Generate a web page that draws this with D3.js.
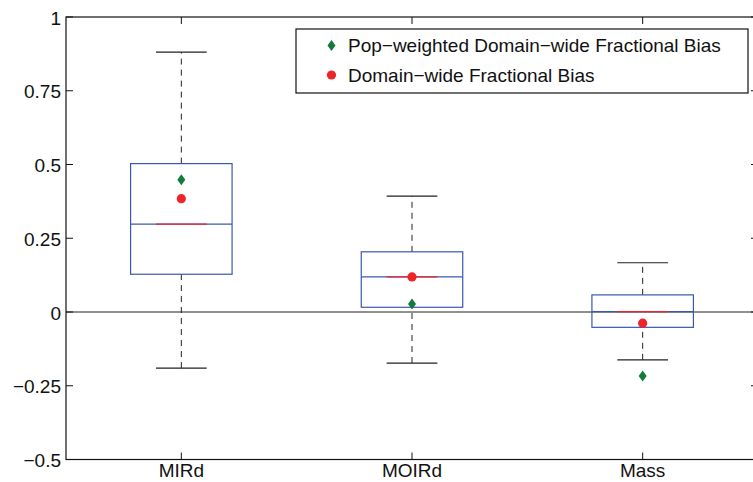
<!DOCTYPE html>
<html>
<head>
<meta charset="utf-8">
<script src="https://cdn.jsdelivr.net/npm/d3@7"></script>
<style>
  html, body { margin: 0; padding: 0; background: #fff; }
  svg { display: block; }
  text { font-family: "Liberation Sans", Arial, Helvetica, sans-serif; fill: #111; }
</style>
</head>
<body>
<svg id="chart" width="753" height="482"></svg>
<script>
// Categories and box statistics (fractional bias)
const categories = ["MIRd", "MOIRd", "Mass"];
const whiskerLow  = [-0.190, -0.173, -0.162];
const boxLow      = [0.128, 0.016, -0.052];
const median      = [0.298, 0.119, 0.001];
const boxHigh     = [0.503, 0.204, 0.058];
const whiskerHigh = [0.881, 0.393, 0.167];
// Domain-wide summary points
const domainFB    = [0.384, 0.119, -0.038];
const popWeightFB = [0.448, 0.027, -0.217];
// Axis ticks
const yTicks = [-0.5, -0.25, 0, 0.25, 0.5, 0.75, 1];
const yTickLabels = ["\u22120.5", "\u22120.25", "0", "0.25", "0.5", "0.75", "1"];
const legendLabels = ["Pop\u2212weighted Domain\u2212wide Fractional Bias", "Domain\u2212wide Fractional Bias"];

const svg = d3.select("#chart");
const plotL = 66, plotR = 758, plotT = 17, plotB = 459.5;

const x = d3.scaleLinear().domain([0.5, 3.5]).range([plotL, plotR]);
const y = d3.scaleLinear().domain([-0.5, 1]).range([plotB, plotT]);

const boxW = 0.44, capW = 0.22;
const blue = "#3a58b0", red = "#ee2428", green = "#137a3c";
const fs = 19;

// Zero reference line
svg.append("line")
  .attr("x1", plotL).attr("x2", plotR)
  .attr("y1", y(0)).attr("y2", y(0))
  .attr("stroke", "#222").attr("stroke-width", 1.2);

const g = svg.append("g");
categories.forEach((c, i) => {
  const cx = x(i + 1);
  const bx0 = x(i + 1 - boxW / 2), bx1 = x(i + 1 + boxW / 2);
  const cx0 = x(i + 1 - capW / 2), cx1 = x(i + 1 + capW / 2);
  // whiskers
  [[boxHigh[i], whiskerHigh[i]], [whiskerLow[i], boxLow[i]]].forEach(([a, b]) => {
    g.append("line").attr("x1", cx).attr("x2", cx)
      .attr("y1", y(a)).attr("y2", y(b))
      .attr("stroke", "#222").attr("stroke-width", 1)
      .attr("stroke-dasharray", "6,5");
  });
  [whiskerHigh[i], whiskerLow[i]].forEach(v => {
    g.append("line").attr("x1", cx0).attr("x2", cx1)
      .attr("y1", y(v)).attr("y2", y(v))
      .attr("stroke", "#222").attr("stroke-width", 1.2);
  });
  // box
  g.append("rect")
    .attr("x", bx0).attr("y", y(boxHigh[i]))
    .attr("width", bx1 - bx0).attr("height", y(boxLow[i]) - y(boxHigh[i]))
    .attr("fill", "none").attr("stroke", blue).attr("stroke-width", 1.2);
  // median
  g.append("line").attr("x1", bx0).attr("x2", bx1)
    .attr("y1", y(median[i])).attr("y2", y(median[i]))
    .attr("stroke", blue).attr("stroke-width", 1.2);
  g.append("line").attr("x1", cx0).attr("x2", cx1)
    .attr("y1", y(median[i])).attr("y2", y(median[i]))
    .attr("stroke", red).attr("stroke-width", 1.2);
});

const diamond = (cx, cy) => `M${cx},${cy - 5.5} L${cx + 4},${cy} L${cx},${cy + 5.5} L${cx - 4},${cy} Z`;

// markers
categories.forEach((c, i) => {
  svg.append("path").attr("d", diamond(x(i + 1), y(popWeightFB[i]))).attr("fill", green);
  svg.append("circle").attr("cx", x(i + 1)).attr("cy", y(domainFB[i])).attr("r", 4.6).attr("fill", red);
});

// frame
svg.append("rect").attr("x", plotL).attr("y", plotT)
  .attr("width", plotR - plotL).attr("height", plotB - plotT)
  .attr("fill", "none").attr("stroke", "#111").attr("stroke-width", 1.2);

// y ticks (both sides, inward) and labels
yTicks.forEach((t, k) => {
  svg.append("line").attr("x1", plotL).attr("x2", plotL + 7).attr("y1", y(t)).attr("y2", y(t)).attr("stroke", "#111");
  svg.append("line").attr("x1", plotR).attr("x2", plotR - 7).attr("y1", y(t)).attr("y2", y(t)).attr("stroke", "#111");
  svg.append("text").attr("x", plotL - 5).attr("y", y(t)).attr("dy", "0.4em")
    .attr("text-anchor", "end").attr("font-size", fs).text(yTickLabels[k]);
});
// x ticks (top and bottom, inward) and labels
categories.forEach((c, i) => {
  svg.append("line").attr("x1", x(i + 1)).attr("x2", x(i + 1)).attr("y1", plotB).attr("y2", plotB - 7).attr("stroke", "#111");
  svg.append("line").attr("x1", x(i + 1)).attr("x2", x(i + 1)).attr("y1", plotT).attr("y2", plotT + 7).attr("stroke", "#111");
  svg.append("text").attr("x", x(i + 1)).attr("y", plotB + 17.5)
    .attr("text-anchor", "middle").attr("font-size", fs).text(c);
});

// legend
const lg = svg.append("g");
lg.append("rect").attr("x", 296).attr("y", 29).attr("width", 452).attr("height", 64)
  .attr("fill", "#fff").attr("stroke", "#111").attr("stroke-width", 1.2);
lg.append("path").attr("d", diamond(331.5, 45.5)).attr("fill", green);
lg.append("circle").attr("cx", 331.5).attr("cy", 75).attr("r", 4.6).attr("fill", red);
legendLabels.forEach((t, k) => {
  lg.append("text").attr("x", 348).attr("y", 45.5 + k * 29.5).attr("dy", "0.36em")
    .attr("font-size", fs).text(t);
});
</script>
</body>
</html>
